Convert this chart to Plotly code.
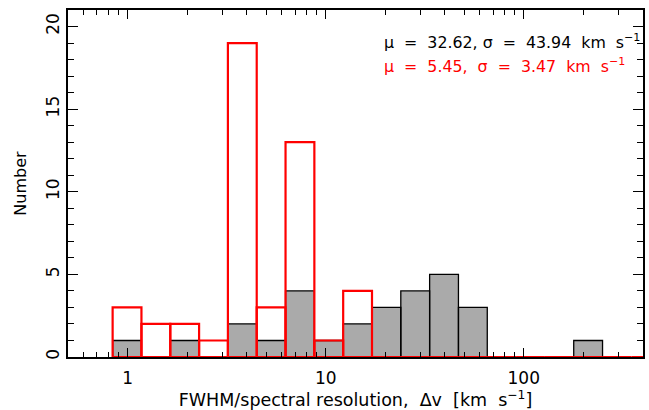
import numpy as np
import plotly.graph_objects as go

# Histogram bins: logarithmic, defined by start (log10) and width (log10)
bin_start_log = -0.0757
bin_width_log = 0.1455
n_bins = 19

# Counts per bin (gray = all sources, red = subset)
gray_counts = [1, 0, 1, 0, 2, 1, 4, 1, 2, 3, 4, 5, 3, 0, 0, 0, 1, 0, 0]
red_counts = [3, 2, 2, 1, 19, 3, 13, 1, 4, 0, 0, 0, 0, 0, 0, 0, 0, 0, 0]

x_tick_vals = [1, 10, 100]
x_tick_text = ["1", "10", "100"]
y_tick_vals = [0, 5, 10, 15, 20]

S = "\u00a0"
label_all = f"μ{S*2}={S*2}32.62,{S}σ{S*2}={S*2}43.94{S*2}km{S*2}s<sup>−1</sup>"
label_sub = f"μ{S*2}={S*2}5.45,{S*2}σ{S*2}={S*2}3.47{S*2}km{S*2}s<sup>−1</sup>"
x_title = f"FWHM/spectral{S}resolution,{S}{S}Δv{S}{S}[km{S}{S}s<sup>−1</sup>]"

edges = 10 ** (bin_start_log + bin_width_log * np.arange(n_bins + 1))


def rects(counts, skip_zero):
    xs, ys = [], []
    for i, c in enumerate(counts):
        if skip_zero and c == 0:
            continue
        a, b = edges[i], edges[i + 1]
        xs += [a, a, b, b, a, None]
        ys += [0, c, c, 0, 0, None]
    return xs, ys


font = "DejaVu Sans, Arial, sans-serif"
fig = go.Figure()

gx, gy = rects(gray_counts, True)
fig.add_trace(go.Scatter(x=gx, y=gy, mode="lines", fill="toself",
                         fillcolor="#aaaaaa", line=dict(color="black", width=1.3),
                         hoverinfo="skip", showlegend=False))
rx, ry = rects(red_counts, False)
fig.add_trace(go.Scatter(x=rx, y=ry, mode="lines",
                         line=dict(color="#ff0000", width=2.2),
                         hoverinfo="skip", showlegend=False))

fig.update_layout(
    width=649, height=410,
    margin=dict(l=68, r=4, t=10, b=53),
    paper_bgcolor="white", plot_bgcolor="white",
    font=dict(family=font, size=17, color="black"),
    xaxis=dict(type="log", range=[np.log10(0.5), np.log10(400)],
               tickvals=x_tick_vals, ticktext=x_tick_text,
               ticks="inside", ticklen=9, tickwidth=1.3, tickcolor="black",
               showline=True, linecolor="black", linewidth=1.5, mirror="allticks",
               showgrid=False, zeroline=False, ticklabelstandoff=5,
               minor=dict(ticks="inside", ticklen=5, tickwidth=1.3, tickcolor="black",
                          tickvals=[d * m for d in [0.1, 1, 10, 100] for m in range(2, 10)],
                          showgrid=False),
               title=dict(text=x_title, font=dict(size=17.5), standoff=1),
               tickfont=dict(size=17)),
    yaxis=dict(range=[0, 21], tickvals=y_tick_vals, tickangle=-90,
               ticks="inside", ticklen=10, tickwidth=1.3, tickcolor="black",
               showline=True, linecolor="black", linewidth=1.5, mirror="allticks",
               showgrid=False, zeroline=False, ticklabelstandoff=0,
               minor=dict(ticks="inside", ticklen=6, tickwidth=1.3, tickcolor="black",
                          dtick=1, showgrid=False),
               title=dict(text="Number", font=dict(size=16), standoff=13),
               tickfont=dict(size=17)),
    annotations=[
        dict(text=label_all, x=0.546, y=0.908, xref="paper", yref="paper",
             xanchor="left", yanchor="middle", showarrow=False,
             font=dict(size=15.8, color="black")),
        dict(text=label_sub, x=0.546, y=0.839, xref="paper", yref="paper",
             xanchor="left", yanchor="middle", showarrow=False,
             font=dict(size=15.8, color="#ff0000")),
    ],
)

fig.write_html("out.html")
